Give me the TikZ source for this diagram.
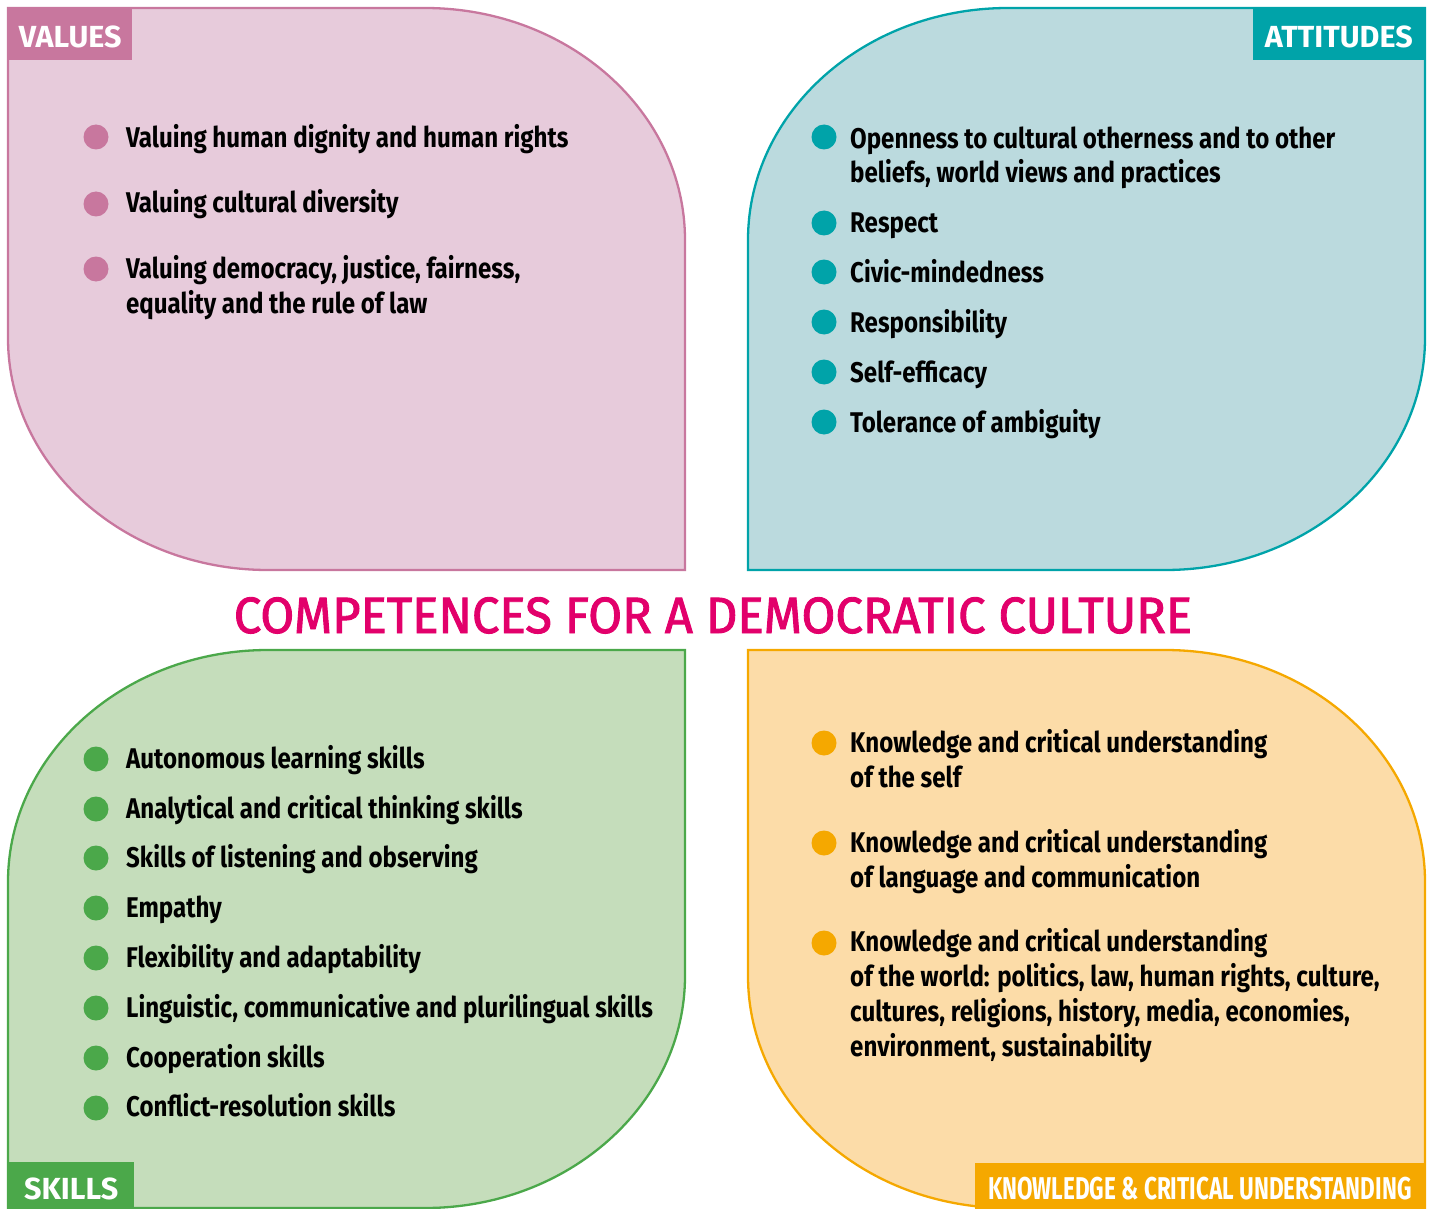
\documentclass[tikz,border=0pt]{standalone}
\usepackage{fontspec}
\setmainfont{Fira Sans}
\newfontfamily\itemfont[FakeStretch=0.845]{Fira Sans}
\newfontfamily\tagfont[FakeStretch=0.715]{Fira Sans}
\newfontfamily\titlefont[FakeStretch=0.962, FakeBold=1.8]{Fira Sans}
\usetikzlibrary{positioning}

\definecolor{valline}{HTML}{C8779E}
\definecolor{valfill}{HTML}{E7CBDB}
\definecolor{attline}{HTML}{00A3A9}
\definecolor{attfill}{HTML}{BBDADE}
\definecolor{sklline}{HTML}{4BA84A}
\definecolor{sklfill}{HTML}{C5DDBB}
\definecolor{knwline}{HTML}{F5A800}
\definecolor{knwfill}{HTML}{FCDCA8}
\definecolor{titlered}{HTML}{E2006B}

\tikzset{
  leaf/.style = {line width = 2.3pt},
  dot/.style = {circle, inner sep = 0pt, minimum size = 25pt},
  item/.style = {anchor = base west, inner sep = 0pt, align = left,
                 font = \itemfont\bfseries\fontsize{28.5pt}{34.8pt}\selectfont},
  tag/.style = {inner sep = 0pt, text = white, minimum height = 52pt,
                text height = 27pt, text depth = 0pt,
                font = \bfseries\fontsize{30.5pt}{34pt}\selectfont}
}

\begin{document}
\begin{tikzpicture}[x = 1pt, y = -1pt]
\useasboundingbox (0,0) rectangle (1435,1209);

% the four leaves
\filldraw[leaf, draw = valline, fill = valfill] (8,8) -- (425,8)
  arc[start angle = 90, end angle = 0, x radius = 260pt, y radius = 232pt]
  -- (685,570) -- (268,570)
  arc[start angle = 270, end angle = 180, x radius = 260pt, y radius = 232pt]
  -- cycle;
\filldraw[leaf, draw = attline, fill = attfill] (1425,8) -- (1425,338)
  arc[start angle = 0, end angle = -90, x radius = 260pt, y radius = 232pt]
  -- (748,570) -- (748,240)
  arc[start angle = 180, end angle = 90, x radius = 260pt, y radius = 232pt]
  -- cycle;
\filldraw[leaf, draw = sklline, fill = sklfill] (685,650) -- (685,976)
  arc[start angle = 0, end angle = -90, x radius = 260pt, y radius = 232pt]
  -- (8,1208) -- (8,882)
  arc[start angle = 180, end angle = 90, x radius = 260pt, y radius = 232pt]
  -- cycle;
\filldraw[leaf, draw = knwline, fill = knwfill] (748,650) -- (1165,650)
  arc[start angle = 90, end angle = 0, x radius = 260pt, y radius = 232pt]
  -- (1425,1208) -- (1008,1208)
  arc[start angle = 270, end angle = 180, x radius = 260pt, y radius = 232pt]
  -- cycle;

% corner tags
\node[tag, fill = valline, anchor = north west, minimum width = 124pt] (values) at (8,8) {VALUES};
\node[tag, fill = attline, anchor = north east, minimum width = 172pt] (attitudes) at (1425,8) {ATTITUDES};
\node[tag, fill = sklline, anchor = south west, minimum width = 126pt, minimum height = 48pt] (skills) at (8,1210) {SKILLS};
\node[tag, fill = knwline, anchor = south east, minimum width = 450pt, minimum height = 47pt,
      font = \tagfont\bfseries\fontsize{31.5pt}{34pt}\selectfont] (knowledge) at (1425,1210) {KNOWLEDGE \& CRITICAL UNDERSTANDING};

% title
\node[text = titlered, anchor = base, inner sep = 0pt, font = \titlefont\fontsize{51pt}{60pt}\selectfont] (title) at (713,633)
  {COMPETENCES FOR A DEMOCRATIC CULTURE};

% values
\node[dot, fill = valline] (vd1) at (96,137) {};
\node[item] (v1) at (126,148) {Valuing human dignity and human rights};
\node[dot, fill = valline] (vd2) at (96,204) {};
\node[item] (v2) at (126,213) {Valuing cultural diversity};
\node[dot, fill = valline] (vd3) at (96,269) {};
\node[item] (v3) at (126,313) {Valuing democracy, justice, fairness,\\equality and the rule of law};

% attitudes
\node[dot, fill = attline] (ad1) at (824,137) {};
\node[item] (a1) at (850,183) {Openness to cultural otherness and to other\\beliefs, world views and practices};
\node[dot, fill = attline] (ad2) at (824,223) {};
\node[item] (a2) at (850,233) {Respect};
\node[dot, fill = attline] (ad3) at (824,272) {};
\node[item] (a3) at (850,282) {Civic-mindedness};
\node[dot, fill = attline] (ad4) at (824,322) {};
\node[item] (a4) at (850,332) {Responsibility};
\node[dot, fill = attline] (ad5) at (824,372) {};
\node[item] (a5) at (850,382) {Self-efficacy};
\node[dot, fill = attline] (ad6) at (824,422) {};
\node[item] (a6) at (850,432) {Tolerance of ambiguity};

% skills
\node[dot, fill = sklline] (sd1) at (96,759) {};
\node[item] (s1) at (126,768) {Autonomous learning skills};
\node[dot, fill = sklline] (sd2) at (96,809) {};
\node[item] (s2) at (126,818) {Analytical and critical thinking skills};
\node[dot, fill = sklline] (sd3) at (96,858) {};
\node[item] (s3) at (126,867) {Skills of listening and observing};
\node[dot, fill = sklline] (sd4) at (96,908) {};
\node[item] (s4) at (126,917) {Empathy};
\node[dot, fill = sklline] (sd5) at (96,958) {};
\node[item] (s5) at (126,967) {Flexibility and adaptability};
\node[dot, fill = sklline] (sd6) at (96,1008) {};
\node[item] (s6) at (126,1017) {Linguistic, communicative and plurilingual skills};
\node[dot, fill = sklline] (sd7) at (96,1058) {};
\node[item] (s7) at (126,1067) {Cooperation skills};
\node[dot, fill = sklline] (sd8) at (96,1108) {};
\node[item] (s8) at (126,1116) {Conflict-resolution skills};

% knowledge and critical understanding
\node[dot, fill = knwline] (kd1) at (824,743) {};
\node[item] (k1) at (850,787) {Knowledge and critical understanding\\of the self};
\node[dot, fill = knwline] (kd2) at (824,843) {};
\node[item] (k2) at (850,887) {Knowledge and critical understanding\\of language and communication};
\node[dot, fill = knwline] (kd3) at (824,943) {};
\node[item] (k3) at (850,1056) {Knowledge and critical understanding\\of the world: politics, law, human rights, culture,\\cultures, religions, history, media, economies,\\environment, sustainability};
\end{tikzpicture}
\end{document}
